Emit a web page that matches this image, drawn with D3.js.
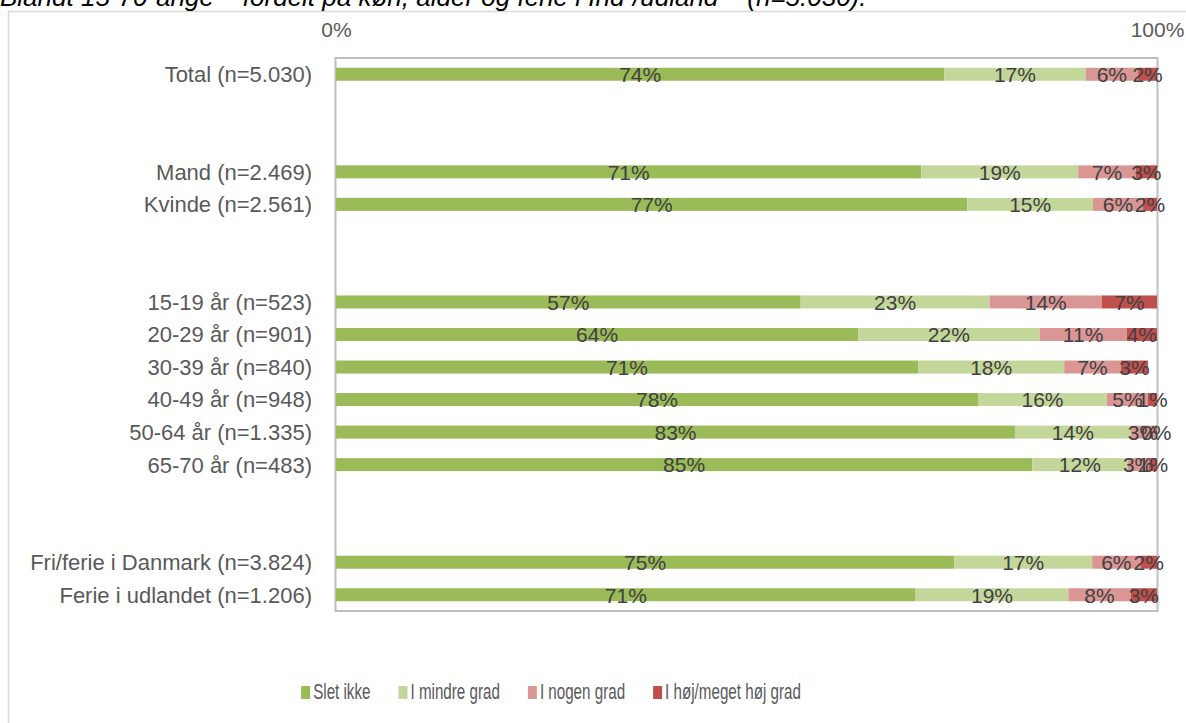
<!DOCTYPE html>
<html>
<head>
<meta charset="utf-8">
<script src="https://cdn.jsdelivr.net/npm/d3@7"></script>
<style>
  html, body { margin: 0; padding: 0; background: #fff; }
  svg { display: block; font-family: "Liberation Sans", Arial, sans-serif; }
</style>
</head>
<body>
<svg id="chart" width="1186" height="723"></svg>
<script>
// ---- data ----
const title = "Blandt 15-70-årige – fordelt på køn, alder og ferie i Ind-/udland – (n=5.030).";
const categories = [
  "Total (n=5.030)", "", " ",
  "Mand (n=2.469)", "Kvinde (n=2.561)", "  ", "   ",
  "15-19 år (n=523)", "20-29 år (n=901)", "30-39 år (n=840)", "40-49 år (n=948)",
  "50-64 år (n=1.335)", "65-70 år (n=483)", "    ", "     ",
  "Fri/ferie i Danmark (n=3.824)", "Ferie i udlandet (n=1.206)"
];
const seriesNames = ["Slet ikke", "I mindre grad", "I nogen grad", "I høj/meget høj grad"];
const seriesColors = ["#9bbb59", "#c4d79b", "#da9694", "#c0504d"];
// values in percent (null = empty spacer row)
const sletIkke    = [74.1, null, null, 71.3, 76.9, null, null, 56.6, 63.6, 70.9, 78.2, 82.7, 84.8, null, null, 75.3, 70.6];
const mindreGrad  = [17.2, null, null, 19.1, 15.3, null, null, 23.0, 22.1, 17.8, 15.7, 14.1, 11.6, null, null, 16.8, 18.6];
const nogenGrad   = [6.4,  null, null, 7.0,  6.1,  null, null, 13.7, 10.6, 6.9,  5.0,  3.0,  2.6,  null, null, 5.9,  7.6];
const hoejGrad    = [2.3,  null, null, 2.6,  1.7,  null, null, 6.7,  3.7,  3.3,  1.1,  0.2,  1.0,  null, null, 2.0,  3.2];
const axisTicks = [0, 100];
const series = [sletIkke, mindreGrad, nogenGrad, hoejGrad];

// ---- layout ----
const svg = d3.select("#chart");
const plot = { left: 336, right: 1157, top: 58, bottom: 611 };

// outer chart border
svg.append("rect")
  .attr("x", 8.5).attr("y", 11.5).attr("width", 1300).attr("height", 900)
  .attr("fill", "none").attr("stroke", "#d9d9d9").attr("stroke-width", 1.5);

// title (cut off at the top)
svg.append("text")
  .attr("x", 0).attr("y", 6)
  .attr("font-style", "italic")
  .attr("font-size", 26)
  .attr("fill", "#000")
  .text(title);

const x = d3.scaleLinear().domain([0, 100]).range([plot.left, plot.right]);
const y = d3.scaleBand().domain(categories).range([plot.top, plot.bottom]).paddingInner(0.6).paddingOuter(0.3);

// plot area border
svg.append("rect")
  .attr("x", plot.left - 0.5).attr("y", plot.top)
  .attr("width", plot.right - plot.left + 1).attr("height", plot.bottom - plot.top)
  .attr("fill", "none").attr("stroke", "#bfbfbf").attr("stroke-width", 2);

// top axis
const axis = svg.append("g")
  .attr("transform", `translate(0, ${plot.top - 21})`)
  .call(d3.axisTop(x).tickValues(axisTicks).tickFormat(d => d + "%").tickSize(0).tickPadding(0));
axis.select(".domain").remove();
axis.selectAll("text")
  .attr("font-family", "Liberation Sans, Arial, sans-serif")
  .attr("font-size", 21).attr("fill", "#595959").attr("dy", "0");

// category labels
svg.append("g").selectAll("text")
  .data(categories.filter(c => c.trim() !== ""))
  .join("text")
  .attr("x", plot.left - 24)
  .attr("y", d => y(d) + y.bandwidth() / 2)
  .attr("dy", "0.36em")
  .attr("text-anchor", "end")
  .attr("font-size", 22)
  .attr("fill", "#595959")
  .text(d => d);

// stacked bars
const rows = categories.map((c, i) => {
  let acc = 0;
  return series.map((s, k) => {
    const v = s[i];
    if (v == null) return null;
    const seg = { cat: c, k, v, x0: acc, x1: acc + v };
    acc += v;
    return seg;
  }).filter(d => d);
}).flat();

svg.append("g").selectAll("rect")
  .data(rows)
  .join("rect")
  .attr("x", d => x(d.x0))
  .attr("y", d => y(d.cat))
  .attr("width", d => Math.max(0, x(d.x1) - x(d.x0)))
  .attr("height", y.bandwidth())
  .attr("fill", d => seriesColors[d.k]);

svg.append("g").selectAll("text")
  .data(rows)
  .join("text")
  .attr("x", d => x((d.x0 + d.x1) / 2))
  .attr("y", d => y(d.cat) + y.bandwidth() / 2)
  .attr("dy", "0.37em")
  .attr("text-anchor", "middle")
  .attr("font-size", 21)
  .attr("fill", "#404040")
  .text(d => Math.round(d.v) + "%");

// legend (text horizontally condensed like the reference)
const squeeze = 0.69;
const legend = svg.append("g").attr("transform", "translate(0, 699)");
const items = legend.selectAll("g").data(seriesNames).join("g");
items.append("rect").attr("x", 0).attr("y", -13).attr("width", 9).attr("height", 13)
  .attr("fill", (d, i) => seriesColors[i]);
items.append("text")
  .attr("transform", `translate(12,0) scale(${squeeze},1)`)
  .attr("font-size", 22).attr("fill", "#595959").text(d => d);
const widths = [];
items.each(function () {
  const tw = d3.select(this).select("text").node().getComputedTextLength() * squeeze;
  widths.push(12 + tw);
});
const gap = 28;
const total = d3.sum(widths) + gap * (widths.length - 1);
let start = 551 - total / 2;
items.attr("transform", (d, i) => {
  const t = `translate(${start}, 0)`;
  start += widths[i] + gap;
  return t;
});
</script>
</body>
</html>
